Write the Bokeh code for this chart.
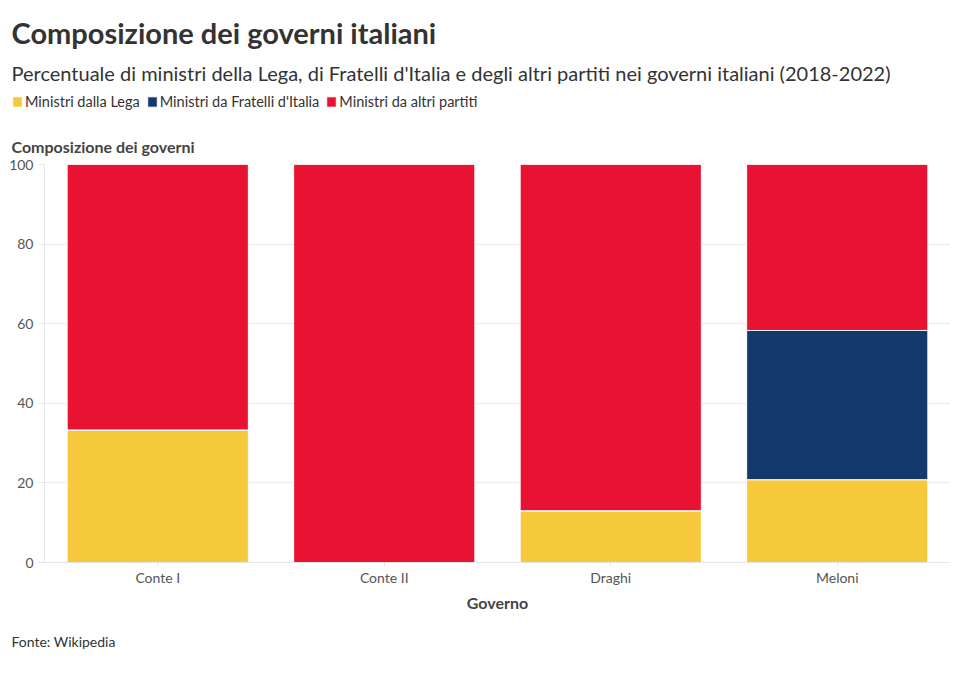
from bokeh.plotting import figure
from bokeh.layouts import column, row
from bokeh.models import ColumnDataSource, FactorRange, Range1d, Title, Legend, LegendItem
from bokeh.embed import file_html
from bokeh.resources import INLINE

governi = ["Conte I", "Conte II", "Draghi", "Meloni"]
lega = [33.3, 0.0, 13.0, 20.8]
fdi = [0.0, 0.0, 0.0, 37.5]
altri = [66.7, 100.0, 87.0, 41.7]
y_ticks = [0, 20, 40, 60, 80, 100]
serie = ["lega", "fdi", "altri"]
etichette = ["Ministri dalla Lega", "Ministri da Fratelli d'Italia", "Ministri da altri partiti"]
colori = ["#F6C83C", "#143A6B", "#E81332"]

FONT = "Lato"
OFF = -33

src = ColumnDataSource(dict(governo=governi, lega=lega, fdi=fdi, altri=altri))

# ---------- header (title, subtitle, legend) ----------
h = figure(width=950, height=116, output_backend="svg", toolbar_location=None,
           x_axis_type=None, y_axis_type=None, x_range=Range1d(0, 1), y_range=Range1d(0, 1),
           min_border_left=11, min_border_right=0, min_border_top=0, min_border_bottom=0)
h.outline_line_color = None
h.grid.visible = False
# outermost title used as a small top spacer
h.title.text = " "
h.title.text_font = FONT
h.title.text_font_size = "8px"
h.title.standoff = 0

sub = Title(text="Percentuale di ministri della Lega, di Fratelli d'Italia e degli altri partiti nei governi italiani (2018-2022)",
            text_font=FONT, text_font_size="20px", text_font_style="normal",
            text_color="#333333", align="left", offset=0, standoff=18)
h.add_layout(sub, "above")
tit = Title(text="Composizione dei governi italiani", text_font=FONT, text_font_size="29px",
            text_font_style="bold", text_color="#333333", align="left", offset=0, standoff=0)
h.add_layout(tit, "above")

# legend swatches: one bar per series placed outside the visible range
hr = []
for i, s in enumerate(serie):
    hr.append(h.vbar(x=[10 + i], top=[1], width=0.5, color=colori[i], line_color="white"))
legend = Legend(items=[LegendItem(label=l, renderers=[r]) for l, r in zip(etichette, hr)],
                orientation="horizontal", location="top_left",
                label_text_font=FONT, label_text_font_size="14.5px", label_text_color="#333333",
                glyph_width=12, glyph_height=13, label_standoff=2, spacing=6,
                padding=0, margin=0, border_line_color=None, background_fill_alpha=0,
                label_height=14)
h.add_layout(legend, "center")

# ---------- main chart ----------
p = figure(x_range=FactorRange(*governi), y_range=Range1d(0, 100),
           width=950, height=550, output_backend="svg", toolbar_location=None,
           min_border_left=44, min_border_right=0, min_border_top=48, min_border_bottom=0)
p.outline_line_color = None

p.vbar_stack(serie, x="governo", width=0.8, color=colori, line_color="white",
             line_width=1, source=src)

p.title.text = "Composizione dei governi"
p.title.text_font = FONT
p.title.text_font_size = "16px"
p.title.text_font_style = "bold"
p.title.text_color = "#444444"
p.title.align = "left"
p.title.offset = OFF
p.title.standoff = 18

foot = Title(text="Fonte: Wikipedia", text_font=FONT, text_font_size="14px",
             text_font_style="normal", text_color="#333333", align="left", offset=OFF, standoff=33)
p.add_layout(foot, "below")

p.yaxis.ticker = y_ticks
p.yaxis.axis_line_color = "#e6e6e6"
p.yaxis.major_tick_line_color = "#e6e6e6"
p.yaxis.major_tick_out = 6
p.yaxis.major_tick_in = 0
p.yaxis.minor_tick_line_color = None
p.yaxis.major_label_text_font = FONT
p.yaxis.major_label_text_font_size = "14px"
p.yaxis.major_label_text_color = "#555555"

p.xaxis.axis_label = "Governo"
p.xaxis.axis_label_text_font = FONT
p.xaxis.axis_label_text_font_size = "16px"
p.xaxis.axis_label_text_font_style = "bold"
p.xaxis.axis_label_text_color = "#444444"
p.xaxis.axis_label_standoff = 4
p.xaxis.axis_line_color = "#e6e6e6"
p.xaxis.major_tick_line_color = "#e6e6e6"
p.xaxis.major_tick_out = 4
p.xaxis.major_tick_in = 0
p.xaxis.major_label_standoff = 2
p.xaxis.major_label_text_font = FONT
p.xaxis.major_label_text_font_size = "14px"
p.xaxis.major_label_text_color = "#555555"

p.xgrid.grid_line_color = None
p.ygrid.grid_line_color = "#eeeeee"
p.ygrid.grid_line_width = 1.5

layout = column(row(h), p, spacing=0)
open("out.html", "w").write(file_html(layout, INLINE))
